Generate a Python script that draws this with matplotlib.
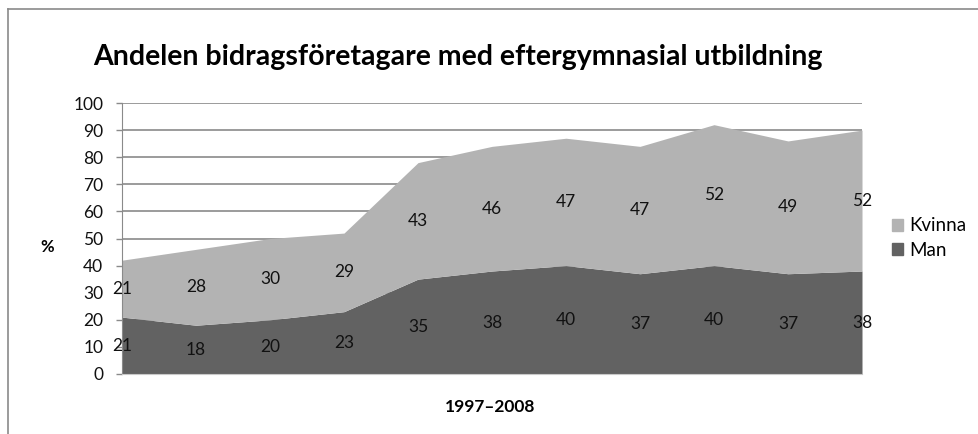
import matplotlib.pyplot as plt
from matplotlib.lines import Line2D
import numpy as np

# data
years = list(range(11))
man = [21, 18, 20, 23, 35, 38, 40, 37, 40, 37, 38]
kvinna = [21, 28, 30, 29, 43, 46, 47, 47, 52, 49, 52]
colors = {"Man": "#626262", "Kvinna": "#b3b3b3"}

plt.rcParams["font.family"] = ["Lato", "DejaVu Sans"]

fig = plt.figure(figsize=(9.79, 4.34), dpi=100)
ax = fig.add_axes([122 / 979, 1 - 374 / 434, (862 - 122) / 979, (374 - 103) / 434])

man_a = np.array(man)
kv_a = np.array(kvinna)
ax.fill_between(years, 0, man_a, color=colors["Man"], lw=0, zorder=2)
ax.fill_between(years, man_a, man_a + kv_a, color=colors["Kvinna"], lw=0, zorder=2)

# etiquetas en el centro de cada capa
for x, m, k in zip(years, man, kvinna):
    ax.text(x, m / 2, str(m), ha="center", va="center", fontsize=12.5, color="#111111", zorder=3, clip_on=False)
    ax.text(x, m + k / 2, str(k), ha="center", va="center", fontsize=12.5, color="#111111", zorder=3, clip_on=False)

ax.set_xlim(0, 10)
ax.set_ylim(0, 100)
ax.set_yticks(range(0, 101, 10))
ax.set_xticks([])
ax.yaxis.grid(True, color="#8a8a8a", lw=1.2, zorder=1)
ax.set_axisbelow(True)
ax.tick_params(axis="y", length=4.5, width=1, color="#8a8a8a", pad=9, labelsize=12.5, labelcolor="#111111")
for s in ["top", "right"]:
    ax.spines[s].set_visible(False)
ax.spines["left"].set_color("#8a8a8a")
ax.spines["bottom"].set_color("#c8c8c8")

fig.text(458 / 979, 1 - 57 / 434, "Andelen bidragsföretagare med eftergymnasial utbildning",
         ha="center", va="center", fontsize=20.5, fontweight="bold")
fig.text(47 / 979, 1 - 247 / 434, "%", ha="center", va="center", fontsize=12, fontweight="bold")
fig.text(490 / 979, 1 - 407 / 434, "1997–2008", ha="center", va="center", fontsize=12.5, fontweight="bold")

handles = [plt.Rectangle((0, 0), 1, 1, color=colors["Kvinna"]),
           plt.Rectangle((0, 0), 1, 1, color=colors["Man"])]
fig.legend(handles, ["Kvinna", "Man"], loc="center left", bbox_to_anchor=(892 / 979, 1 - 238 / 434),
           frameon=False, fontsize=13.5, handlelength=0.6, handleheight=0.6, handletextpad=0.3,
           labelspacing=0.4, borderpad=0, borderaxespad=0)

# marco exterior
fig.add_artist(Line2D([8 / 979, 8 / 979], [0, 1 - 9 / 434], transform=fig.transFigure, color="#8a8a8a", lw=1.2))
fig.add_artist(Line2D([8 / 979, 1], [1 - 9 / 434, 1 - 9 / 434], transform=fig.transFigure, color="#8a8a8a", lw=1.2))

fig.savefig("out.png", dpi=100)
